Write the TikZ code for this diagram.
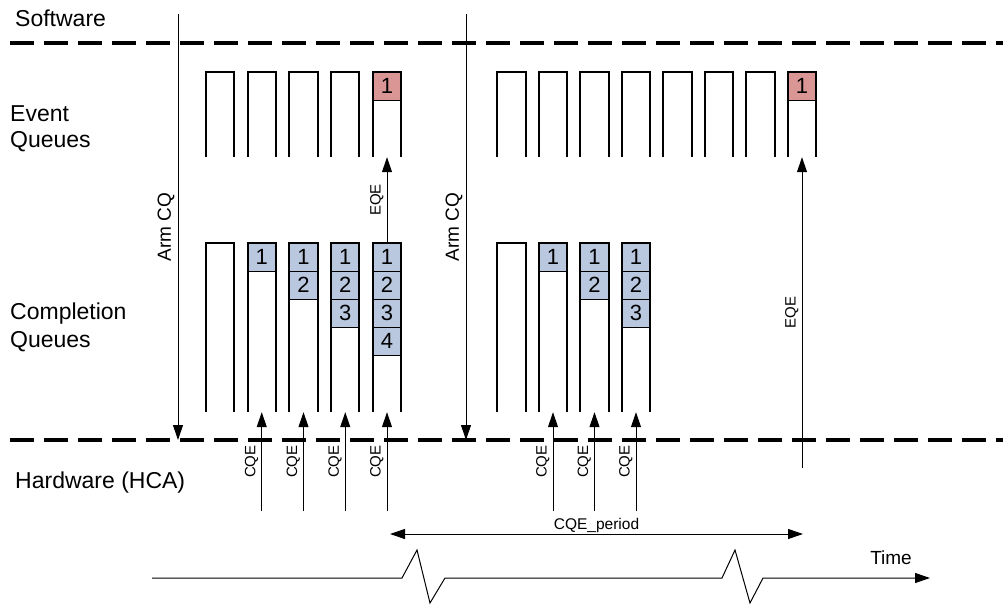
\documentclass[tikz,border=0pt]{standalone}
\usepackage{fontspec}
\setmainfont{Liberation Sans}
\usetikzlibrary{arrows.meta,positioning}
\definecolor{cqfill}{RGB}{185,200,222}
\definecolor{eqfill}{RGB}{217,150,148}
\tikzset{
frontier/.style={line width=3.5pt,dash pattern=on 23.5pt off 10.5pt},
qcol/.style={minimum width=28pt,inner sep=0pt,draw=none},
qwall/.style={line width=2pt},
sig/.style={line width=1pt,-{Triangle[length=15pt,width=10pt]}},
entry/.style={draw,line width=1pt,minimum size=28pt,inner sep=0pt,font=\fontsize{22}{22}\selectfont},
tag/.style={midway,rotate=90,anchor=south,inner sep=3pt,font=\fontsize{15}{15}\selectfont},
side/.style={inner sep=0pt,align=left,font=\fontsize{23}{27}\selectfont}
}

\begin{document}
\begin{tikzpicture}[x=1pt,y=-1pt]
\useasboundingbox (0,0) rectangle (1003,605);
%%% software / hardware frontiers
\draw[frontier] (10,43) -- (1003,43);
\draw[frontier] (10,440) -- (1003,440);
\node[side,anchor=base west] (sw) at (15,27) {Software};
\node[side,anchor=north west,font=\fontsize{23}{26.5}\selectfont] (evq) at (10,105) {Event\\Queues};
\node[side,anchor=north west,font=\fontsize{23}{28}\selectfont] (cmq) at (10,303) {Completion\\Queues};
\node[side,anchor=base west] (hw) at (15,488) {Hardware (HCA)};
%%% queues, first period
\foreach \k in {1,...,5}
{
 \node[qcol,minimum height=85pt] (eq\k) at ({220+41.75*(\k-1)},114.5) {};
 \node[qcol,minimum height=169pt] (cq\k) at ({220+41.75*(\k-1)},327.5) {};
}
%%% queues, second period
\foreach \k in {1,...,8}
  \node[qcol,minimum height=85pt] (eqr\k) at ({511.5+41.5*(\k-1)},114.5) {};
\foreach \k in {1,...,4}
  \node[qcol,minimum height=169pt] (cqr\k) at ({511.5+41.5*(\k-1)},327.5) {};
%%% entries
\foreach \k/\m in {2/1,3/2,4/3,5/4}
 \foreach \n in {1,...,\m}
  \node[entry,fill=cqfill,anchor=north] (cq\k n\n) at ([yshift={(1-\n)*28pt}]cq\k.north) {\n};
\foreach \k/\m in {2/1,3/2,4/3}
 \foreach \n in {1,...,\m}
  \node[entry,fill=cqfill,anchor=north] (cqr\k n\n) at ([yshift={(1-\n)*28pt}]cqr\k.north) {\n};
\node[entry,fill=eqfill,anchor=north] (eq5n1) at (eq5.north) {1};
\node[entry,fill=eqfill,anchor=north] (eqr8n1) at (eqr8.north) {1};
%%% open queue walls
\foreach \c in {eq1,eq2,eq3,eq4,eq5,cq1,cq2,cq3,cq4,cq5,eqr1,eqr2,eqr3,eqr4,eqr5,eqr6,eqr7,eqr8,cqr1,cqr2,cqr3,cqr4}
  \draw[qwall] (\c.south west) |- (\c.north east) -- (\c.south east);
%%% arm CQ
\coordinate (arm1) at (178,14);
\coordinate (arm1e) at (178,440);
\coordinate (arm2) at (466,14);
\coordinate (arm2e) at (466,440);
\foreach \i in {1,2}
  \draw[sig] (arm\i) -- node[tag,font=\fontsize{19}{19}\selectfont] {Arm CQ} (arm\i e);
%%% CQE from hardware
\foreach \k in {2,...,5}
{
 \coordinate (hw\k) at (cq\k.south |- 0,511);
 \draw[sig] (hw\k) -- node[tag] {CQE} (cq\k.south);
}
\foreach \k in {2,...,4}
{
 \coordinate (hwr\k) at (cqr\k.south |- 0,511);
 \draw[sig] (hwr\k) -- node[tag] {CQE} (cqr\k.south);
}
%%% EQE
\draw[sig] (cq5.north) -- node[tag] {EQE} (eq5.south);
\coordinate (hwe) at (eqr8.south |- 0,468);
\draw[sig] (hwe) -- node[tag] {EQE} (eqr8.south);
%%% period and time
\coordinate (per0) at (390,534);
\coordinate (per1) at (803,534);
\draw[line width=1pt,{Triangle[length=15pt,width=10pt]}-{Triangle[length=15pt,width=10pt]}] (per0) -- node[above,inner sep=0.5pt,font=\fontsize{15.5}{15.5}\selectfont] (perl) {CQE\_period} (per1);
\coordinate (t0) at (152,578);
\coordinate (t1) at (930,578);
\draw[sig] (t0) -- (402,578) -- (417,550) -- (430,603) -- (445,578) -- (722,578) -- (735,550) -- (750,603) -- (763,578) -- (t1);
\node[font=\fontsize{19}{19}\selectfont] (time) at (891,557.5) {Time};
\end{tikzpicture}
\end{document}
